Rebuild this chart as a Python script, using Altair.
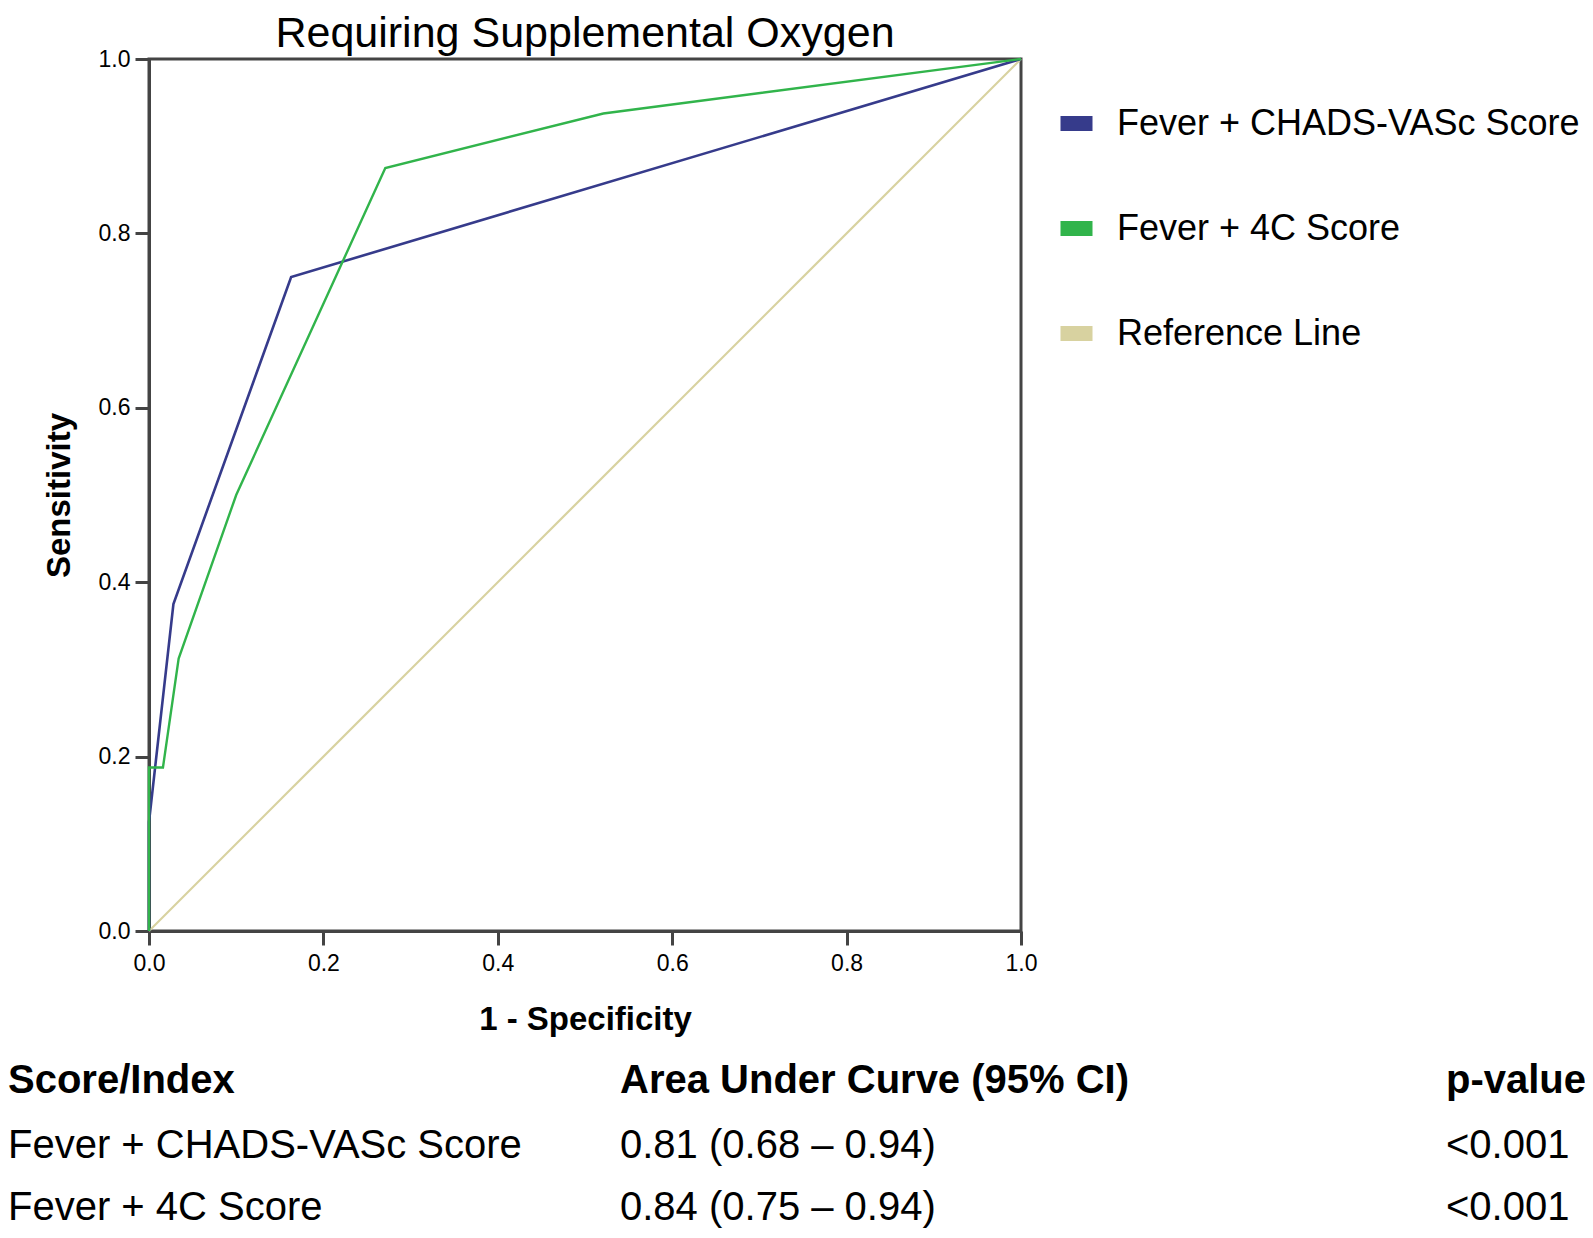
import altair as alt
import pandas as pd

# ---------------- data ----------------
chart_title = "Requiring Supplemental Oxygen"
series_names = ["Fever + CHADS-VASc Score", "Fever + 4C Score", "Reference Line"]
series_colors = ["#363b8b", "#31b44b", "#d8d2a0"]

chads_fpr = [0.0, 0.0, 0.028, 0.163, 1.0]
chads_tpr = [0.0, 0.125, 0.375, 0.75, 1.0]

c4_fpr = [0.0, 0.0, 0.016, 0.034, 0.100, 0.271, 0.521, 1.0]
c4_tpr = [0.0, 0.1875, 0.1875, 0.3125, 0.5, 0.875, 0.9375, 1.0]

ref_fpr = [0.0, 1.0]
ref_tpr = [0.0, 1.0]

axis_ticks = [0.0, 0.2, 0.4, 0.6, 0.8, 1.0]

table_header = ["Score/Index", "Area Under Curve (95% CI)", "p-value"]
table_scores = ["Fever + CHADS-VASc Score", "Fever + 4C Score"]
table_auc = ["0.81 (0.68 \u2013 0.94)", "0.84 (0.75 \u2013 0.94)"]
table_p = ["<0.001", "<0.001"]

FONT = "Liberation Sans"

# ---------------- build table ----------------
rows = []
for name, xs, ys in [
    (series_names[2], ref_fpr, ref_tpr),
    (series_names[0], chads_fpr, chads_tpr),
    (series_names[1], c4_fpr, c4_tpr),
]:
    for i, (x, y) in enumerate(zip(xs, ys)):
        rows.append({"series": name, "fpr": x, "tpr": y, "step": i})
df = pd.DataFrame(rows)

W = 872
H = 872

color = alt.Color(
    "series:N",
    scale=alt.Scale(domain=series_names, range=series_colors),
    legend=alt.Legend(
        title=None,
        orient="none",
        legendX=904,
        legendY=41,
        symbolType="M-1,0H1",
        symbolSize=1024,
        symbolStrokeWidth=15,
        symbolOpacity=1,
        labelFont=FONT,
        labelFontSize=36,
        labelColor="black",
        labelOffset=17,
        labelLimit=600,
        rowPadding=44,
    ),
)

x_enc = alt.X(
    "fpr:Q",
    scale=alt.Scale(domain=[0, 1], nice=False),
    axis=alt.Axis(
        values=axis_ticks,
        format=".1f",
        title="1 - Specificity",
        titleY=98,
        titleBaseline="alphabetic",
        labelPadding=7,
        labelFlush=False,
    ),
)
y_enc = alt.Y(
    "tpr:Q",
    scale=alt.Scale(domain=[0, 1], nice=False),
    axis=alt.Axis(
        values=axis_ticks,
        format=".1f",
        title="Sensitivity",
        titleX=-90,
        titleY=H / 2,
        titleAngle=270,
        titleBaseline="middle",
        labelPadding=5,
        labelFlush=False,
    ),
)


def line_layer(name, width):
    return (
        alt.Chart(df)
        .transform_filter(alt.datum.series == name)
        .mark_line(strokeWidth=width, clip=False)
        .encode(x=x_enc, y=y_enc, color=color, order="step:Q")
    )


lines = alt.layer(
    line_layer(series_names[2], 2.2),
    line_layer(series_names[0], 2.6),
    line_layer(series_names[1], 2.4),
)

# ---------------- title (as text) ----------------
title_layer = (
    alt.Chart(pd.DataFrame({"text": [chart_title]}))
    .mark_text(align="center", baseline="alphabetic", font=FONT, fontSize=43, color="black")
    .encode(text="text:N", x=alt.value(W / 2), y=alt.value(-12))
)

# ---------------- bottom table ----------------
col_x = [-141, 471, 1297]
header_y = 1034

text_layers = []
for i, h in enumerate(table_header):
    text_layers.append(
        alt.Chart(pd.DataFrame({"text": [h]}))
        .mark_text(align="left", baseline="alphabetic", font=FONT, fontSize=40,
                   fontWeight="bold", color="black")
        .encode(text="text:N", x=alt.value(col_x[i]), y=alt.value(header_y))
    )

for i, col in enumerate([table_scores, table_auc, table_p]):
    tdf = pd.DataFrame({"row": list(range(len(col))), "text": col})
    text_layers.append(
        alt.Chart(tdf)
        .mark_text(align="left", baseline="alphabetic", font=FONT, fontSize=40,
                   color="black")
        .encode(
            text="text:N",
            x=alt.value(col_x[i]),
            y=alt.Y("row:O", scale=alt.Scale(type="point", range=[1099, 1161], padding=0),
                    axis=None),
        )
    )

chart = (
    alt.layer(lines, title_layer, *text_layers)
    .resolve_scale(y="independent")
    .properties(
        width=W,
        height=H,
        autosize=alt.AutoSizeParams(type="none"),
        padding={"left": 141, "top": 51, "right": 564, "bottom": 299},
    )
    .configure_view(stroke="#444444", strokeWidth=3)
    .configure_axis(
        grid=False,
        domainColor="#444444",
        domainWidth=3,
        tickColor="#444444",
        tickWidth=3,
        tickSize=14,
        labelFont=FONT,
        labelFontSize=23,
        labelColor="black",
        titleFont=FONT,
        titleFontSize=33,
        titleFontWeight="bold",
        titleColor="black",
    )
)

chart.save("out.html", embed_options={"renderer": "svg", "actions": False})
